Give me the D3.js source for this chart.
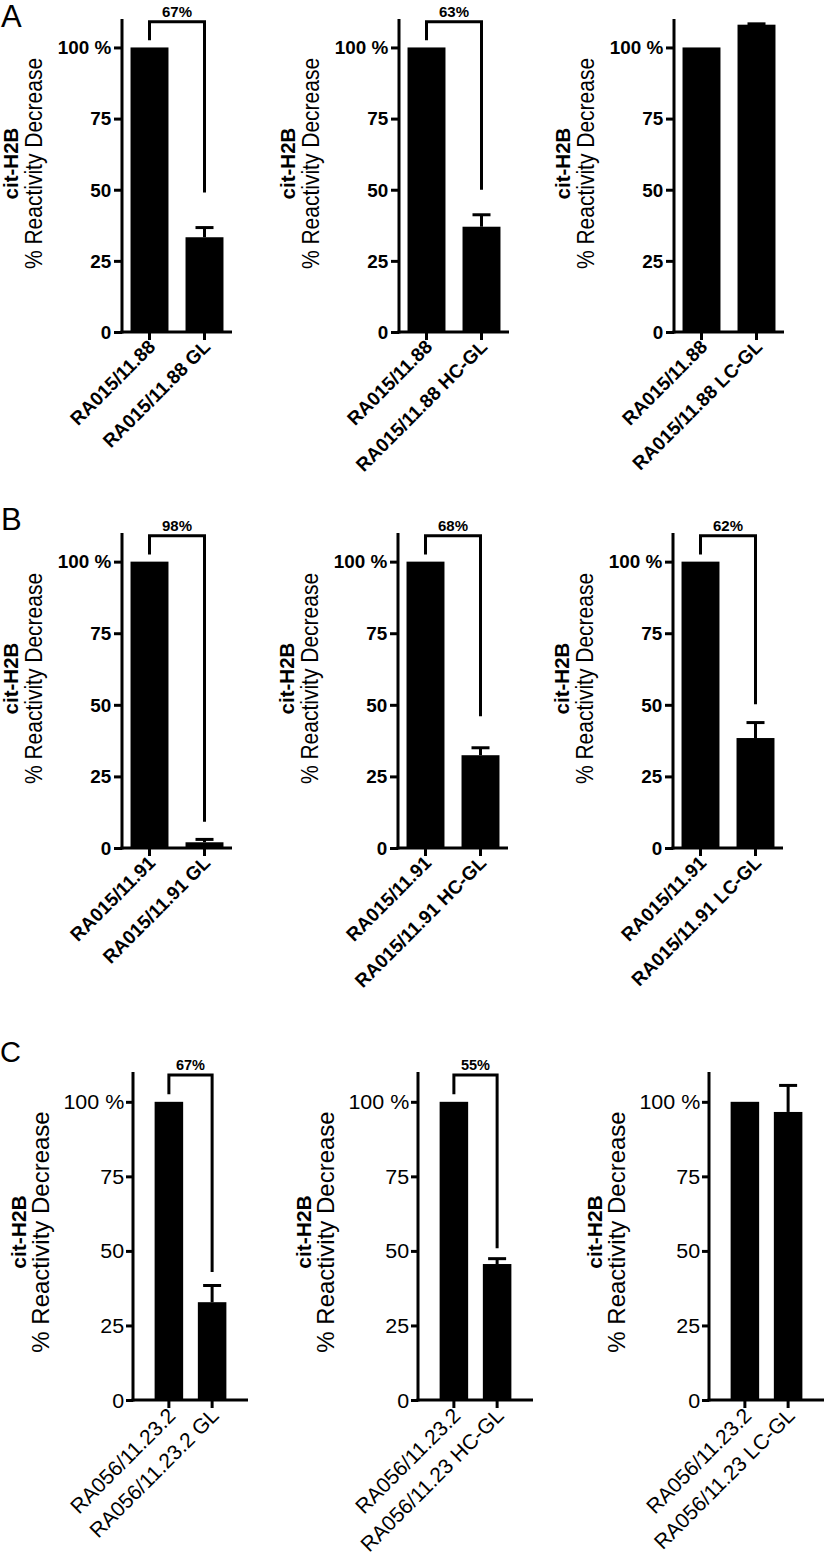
<!DOCTYPE html>
<html>
<head>
<meta charset="utf-8">
<script src="https://cdn.jsdelivr.net/npm/d3@7/dist/d3.min.js"></script>
<style>
  html, body { margin: 0; padding: 0; background: #fff; }
  svg { display: block; font-family: "Liberation Sans", Arial, sans-serif; }
</style>
</head>
<body>
<svg id="chart" width="825" height="1557"></svg>
<script>
// ---------------- DATA ----------------
const panelLetters = ["A", "B", "C"];

const categoriesA = [
  ["RA015/11.88", "RA015/11.88 GL"],
  ["RA015/11.88", "RA015/11.88 HC-GL"],
  ["RA015/11.88", "RA015/11.88 LC-GL"]
];
const categoriesB = [
  ["RA015/11.91", "RA015/11.91 GL"],
  ["RA015/11.91", "RA015/11.91 HC-GL"],
  ["RA015/11.91", "RA015/11.91 LC-GL"]
];
const categoriesC = [
  ["RA056/11.23.2", "RA056/11.23.2 GL"],
  ["RA056/11.23.2", "RA056/11.23 HC-GL"],
  ["RA056/11.23.2", "RA056/11.23 LC-GL"]
];

const valuesA = [[100, 33.3], [100, 37.0], [100, 108.0]];
const valuesB = [[100, 2.0], [100, 32.4], [100, 38.4]];
const valuesC = [[100, 32.8], [100, 45.6], [100, 96.6]];

const errorsA = [[0, 3.4], [0, 4.2], [0, 0.3]];
const errorsB = [[0, 1.0], [0, 2.6], [0, 5.4]];
const errorsC = [[0, 5.6], [0, 1.8], [0, 8.9]];

// bracket labels (null = no bracket) and where the right leg ends
const bracketLabelsA = ["67%", "63%", null];
const bracketLabelsB = ["98%", "68%", "62%"];
const bracketLabelsC = ["67%", "55%", null];
const bracketEndA = [49, 50, null];
const bracketEndB = [9.2, 46, 50.2];
const bracketEndC = [42.9, 50.9, null];
const bracketTop = 109;
const bracketLeftEnd = 102.5;

const yTicks = [0, 25, 50, 75, 100];
const yTickLabels = ["0", "25", "50", "75", "100 %"];
const yTitleLine1 = "cit-H2B";
const yTitleLine2 = "% Reactivity Decrease";
const yDomain = [0, 110];

// ---------------- LAYOUT ----------------
const rows = [
  { letter: panelLetters[0], cats: categoriesA, vals: valuesA, errs: errorsA, bl: bracketLabelsA, be: bracketEndA,
    letterX: 1, letterY: 27, letterSize: 31,
    top: 19, zero: 332, axes: [122, 399, 674], axisLen: 110, padIn: 0.31, padOut: 0.155,
    tickFont: 17.5, tickWeight: "bold", tickSx: 1.08, tickSize: 8, tickPad: 2,
    xFont: 19, xWeight: "bold", xDx: 7, xDy: 16,
    t1: 20.5, t2: 21, t1Off: -104, t2Off: -80, titleShift: -12, g1Sy: 1.0, g2Sy: 1.12, brFont: 15 },
  { letter: panelLetters[1], cats: categoriesB, vals: valuesB, errs: errorsB, bl: bracketLabelsB, be: bracketEndB,
    letterX: 1, letterY: 530, letterSize: 31,
    top: 533, zero: 848, axes: [122, 398, 673], axisLen: 110, padIn: 0.31, padOut: 0.155,
    tickFont: 17.5, tickWeight: "bold", tickSx: 1.08, tickSize: 8, tickPad: 2,
    xFont: 19, xWeight: "bold", xDx: 7, xDy: 16,
    t1: 20.5, t2: 21, t1Off: -104, t2Off: -80, titleShift: -12, g1Sy: 1.0, g2Sy: 1.12, brFont: 15 },
  { letter: panelLetters[2], cats: categoriesC, vals: valuesC, errs: errorsC, bl: bracketLabelsC, be: bracketEndC,
    letterX: 0, letterY: 1062, letterSize: 29,
    top: 1072, zero: 1400, axes: [133, 418, 709], axisLen: 115, padIn: 0.34, padOut: 0.5,
    tickFont: 19.5, tickWeight: "normal", tickSx: 1.1, tickSize: 7, tickPad: 1,
    xFont: 21, xWeight: "normal", xDx: 8, xDy: 17,
    t1: 21, t2: 24, t1Off: -107, t2Off: -84, titleShift: -4, g1Sy: 1.0, g2Sy: 1.0, brFont: 14.5 }
];

const svg = d3.select("#chart");

rows.forEach(row => {
  // panel letter
  svg.append("text")
    .attr("x", row.letterX).attr("y", row.letterY)
    .attr("font-size", row.letterSize)
    .attr("fill", "#000")
    .text(row.letter);

  const y = d3.scaleLinear().domain(yDomain).range([row.zero, row.top]);

  row.axes.forEach((ax, pi) => {
    const cats = row.cats[pi];
    const vals = row.vals[pi];
    const errs = row.errs[pi];
    const x = d3.scaleBand().domain(cats).range([0, row.axisLen])
      .paddingInner(row.padIn).paddingOuter(row.padOut);

    const g = svg.append("g").attr("transform", `translate(${ax},0)`);

    // bars
    g.selectAll("rect.bar").data(cats).join("rect")
      .attr("class", "bar")
      .attr("x", d => x(d))
      .attr("width", x.bandwidth())
      .attr("y", (d, i) => y(vals[i]))
      .attr("height", (d, i) => y(0) - y(vals[i]))
      .attr("fill", "#000");

    // error bars (upper only)
    const capW = 18;
    cats.forEach((c, i) => {
      if (!errs[i]) return;
      const cx = x(c) + x.bandwidth() / 2;
      g.append("line")
        .attr("x1", cx).attr("x2", cx)
        .attr("y1", y(vals[i])).attr("y2", y(vals[i] + errs[i]))
        .attr("stroke", "#000").attr("stroke-width", 3);
      g.append("line")
        .attr("x1", cx - capW / 2).attr("x2", cx + capW / 2)
        .attr("y1", y(vals[i] + errs[i])).attr("y2", y(vals[i] + errs[i]))
        .attr("stroke", "#000").attr("stroke-width", 3);
    });

    // y axis
    const yAxis = d3.axisLeft(y)
      .tickValues(yTicks)
      .tickFormat((d, i) => yTickLabels[i])
      .tickSize(row.tickSize).tickSizeOuter(0).tickPadding(row.tickPad);
    const gy = g.append("g").call(yAxis);
    gy.select(".domain").attr("stroke", "#000").attr("stroke-width", 3)
      .attr("d", `M0,${y(yDomain[1])}V${y(0) + 1.5}`);
    gy.selectAll(".tick line").attr("stroke", "#000").attr("stroke-width", 3);
    gy.selectAll(".tick text")
      .attr("font-family", "Liberation Sans, Arial, sans-serif")
      .attr("font-size", row.tickFont)
      .attr("font-weight", row.tickWeight)
      .attr("fill", "#000")
      .attr("dy", "0.36em")
      .attr("transform", `scale(${row.tickSx},1)`);

    // x axis
    const xAxis = d3.axisBottom(x).tickSize(8).tickSizeOuter(0).tickPadding(4);
    const gx = g.append("g").attr("transform", `translate(0,${y(0)})`).call(xAxis);
    gx.select(".domain").attr("stroke", "#000").attr("stroke-width", 3)
      .attr("d", `M-1.5,0H${row.axisLen}`);
    gx.selectAll(".tick line").attr("stroke", "#000").attr("stroke-width", 3);
    gx.selectAll(".tick text")
      .attr("font-family", "Liberation Sans, Arial, sans-serif")
      .attr("font-size", row.xFont)
      .attr("font-weight", row.xWeight)
      .attr("fill", "#000")
      .attr("text-anchor", "end")
      .attr("x", 0).attr("y", 0).attr("dy", 0)
      .attr("transform", `translate(${row.xDx},${row.xDy}) rotate(-45)`);

    // y title (two lines, rotated)
    const cy = (row.top + row.zero) / 2 + row.titleShift;
    g.append("text")
      .attr("transform", `translate(${row.t1Off},${cy}) rotate(-90) scale(1,${row.g1Sy})`)
      .attr("text-anchor", "middle")
      .attr("font-size", row.t1).attr("font-weight", "bold").attr("fill", "#000")
      .text(yTitleLine1);
    g.append("text")
      .attr("transform", `translate(${row.t2Off},${cy}) rotate(-90) scale(1,${row.g2Sy})`)
      .attr("text-anchor", "middle")
      .attr("font-size", row.t2).attr("fill", "#000")
      .text(yTitleLine2);

    // significance bracket
    const lab = row.bl[pi];
    if (lab) {
      const x1 = x(cats[0]) + x.bandwidth() / 2;
      const x2 = x(cats[1]) + x.bandwidth() / 2;
      const p = d3.path();
      p.moveTo(x1, y(bracketLeftEnd));
      p.lineTo(x1, y(bracketTop));
      p.lineTo(x2, y(bracketTop));
      p.lineTo(x2, y(row.be[pi]));
      g.append("path").attr("d", p.toString())
        .attr("fill", "none").attr("stroke", "#000").attr("stroke-width", 3);
      g.append("text")
        .attr("x", (x1 + x2) / 2).attr("y", y(bracketTop) - 5)
        .attr("text-anchor", "middle")
        .attr("font-size", row.brFont).attr("font-weight", "bold").attr("fill", "#000")
        .text(lab);
    }
  });
});
</script>
</body>
</html>
